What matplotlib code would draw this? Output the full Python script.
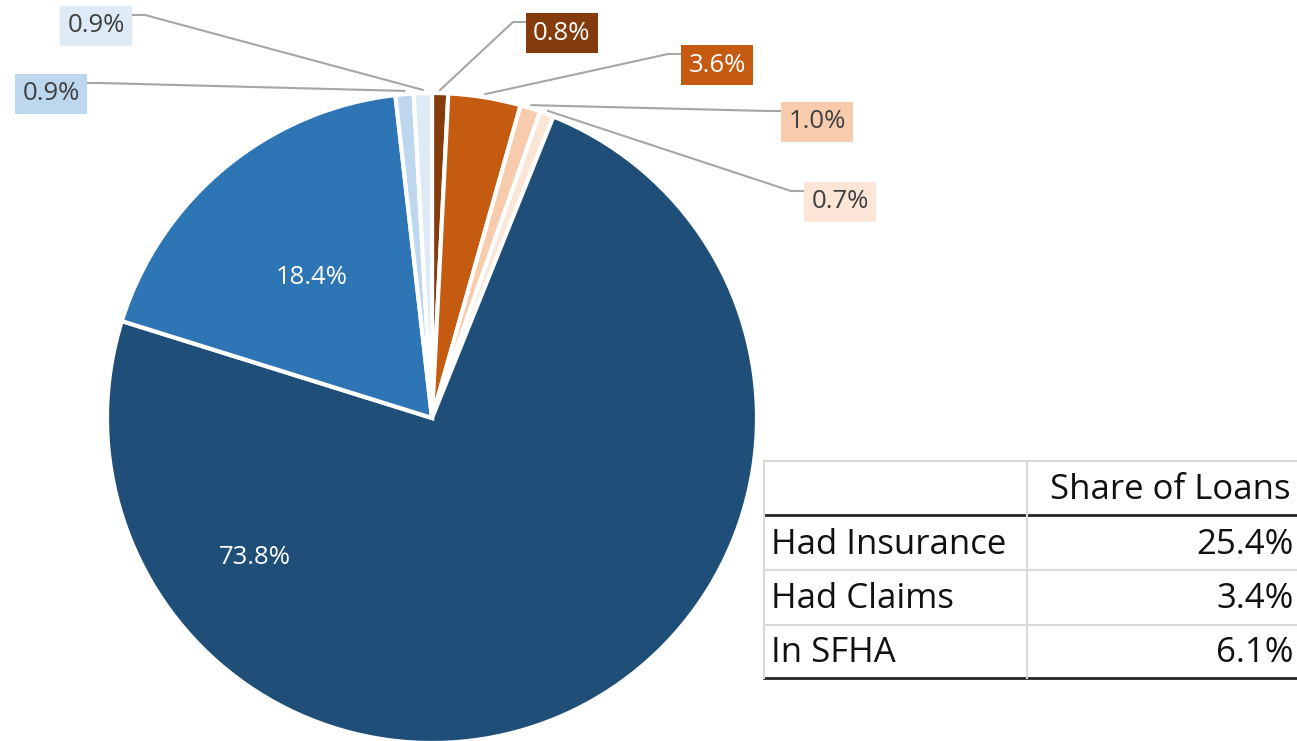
import numpy as np
import matplotlib
matplotlib.use("Agg")
import matplotlib.pyplot as plt

# -------------------------------------------------------------------------------
# Data
# -------------------------------------------------------------------------------

# pie slices, clockwise from 12 o'clock
shares = [0.8, 3.6, 1.0, 0.7, 73.8, 18.4, 0.9, 0.9]
colors = ["#843C0C", "#C55A11", "#F8CBAD", "#FBE5D6",
          "#1F4E79", "#2E75B6", "#BDD7EE", "#DEEBF7"]
text_colors = ["white", "white", "#404040", "#404040",
               "white", "white", "#404040", "#404040"]

# table next to the pie
table_header = "Share of Loans"
table_rows = ["Had Insurance", "Had Claims", "In SFHA"]
table_vals = [25.4, 3.4, 6.1]

# -------------------------------------------------------------------------------
# Layout (pixel units, y measured from the top)
# -------------------------------------------------------------------------------
W, H = 1297, 741
CX, CY, R = 432, 418, 325

# label centres
label_pos = [(562, 33), (717, 65), (817, 122), (840, 202),
             (255, 557), (312, 278), (51, 94), (96, 26)]
inside = [False, False, False, False, True, True, False, False]

FONT = ["Open Sans", "DejaVu Sans"]


def py(y):
    return H - y


fig = plt.figure(figsize=(W / 100, H / 100), dpi=100)
ax = fig.add_axes([0, 0, 1, 1])

wedges, _ = ax.pie(shares, colors=colors, startangle=90, counterclock=False,
                   center=(CX, py(CY)), radius=R,
                   wedgeprops=dict(edgecolor="white", linewidth=3))

ax.set_xlim(0, W)
ax.set_ylim(0, H)
ax.set_aspect("equal")
ax.axis("off")

# -------------------------------------------------------------------------------
# Slice labels
# -------------------------------------------------------------------------------
for i, w in enumerate(wedges):
    lx, ly = label_pos[i]
    txt = f"{shares[i]:.1f}%"
    if inside[i]:
        ax.text(lx, py(ly), txt, ha="center", va="center", color="white",
                fontsize=18.5, family=FONT)
        continue
    ax.text(lx, py(ly), txt, ha="center", va="center", color=text_colors[i],
            fontsize=18.5, family=FONT,
            bbox=dict(boxstyle="square,pad=0.28", facecolor=colors[i],
                      edgecolor="none"))
    # leader line from the slice edge to the box
    mid = np.deg2rad((w.theta1 + w.theta2) / 2)
    sx = CX + R * 1.01 * np.cos(mid)
    sy = py(CY) + R * 1.01 * np.sin(mid)
    box_edge = lx - 37 if lx > CX else lx + 37
    elbow = box_edge - 12 if lx > CX else box_edge + 12
    yl = py(ly - 11)
    if abs(yl - sy) < 4:
        ax.plot([sx, box_edge], [sy, yl], color="#A6A6A6", lw=1.5, zorder=0)
    else:
        ax.plot([sx, elbow, box_edge], [sy, yl, yl], color="#A6A6A6",
                lw=1.5, zorder=0)

# -------------------------------------------------------------------------------
# Table
# -------------------------------------------------------------------------------
tx0, tx1, tcol = 764, 1297, 1027
ty = [461, 515, 570, 625, 678]

ax.plot([tx0, tx1], [py(ty[0])] * 2, color="#D9D9D9", lw=1.5)
for y in ty[2:4]:
    ax.plot([tx0, tx1], [py(y)] * 2, color="#D9D9D9", lw=1.5)
ax.plot([tx0, tx1], [py(ty[1])] * 2, color="#262626", lw=2)
ax.plot([tx0, tx1], [py(ty[-1])] * 2, color="#262626", lw=2)
ax.plot([tx0, tx0], [py(ty[0]), py(ty[-1])], color="#D9D9D9", lw=1.5)
ax.plot([tcol, tcol], [py(ty[0]), py(ty[-1])], color="#D9D9D9", lw=1.5)

ax.text(1290, py((ty[0] + ty[1]) / 2 + 2), table_header, ha="right", va="center",
        fontsize=25, family=FONT, color="#111111")
for k, (name, v) in enumerate(zip(table_rows, table_vals)):
    yc = py((ty[k + 1] + ty[k + 2]) / 2 + 2)
    ax.text(771, yc, name, ha="left", va="center", fontsize=25, family=FONT,
            color="#111111")
    ax.text(1294, yc, f"{v:.1f}%", ha="right", va="center", fontsize=25,
            family=FONT, color="#111111")

fig.savefig("out.png", dpi=100)
